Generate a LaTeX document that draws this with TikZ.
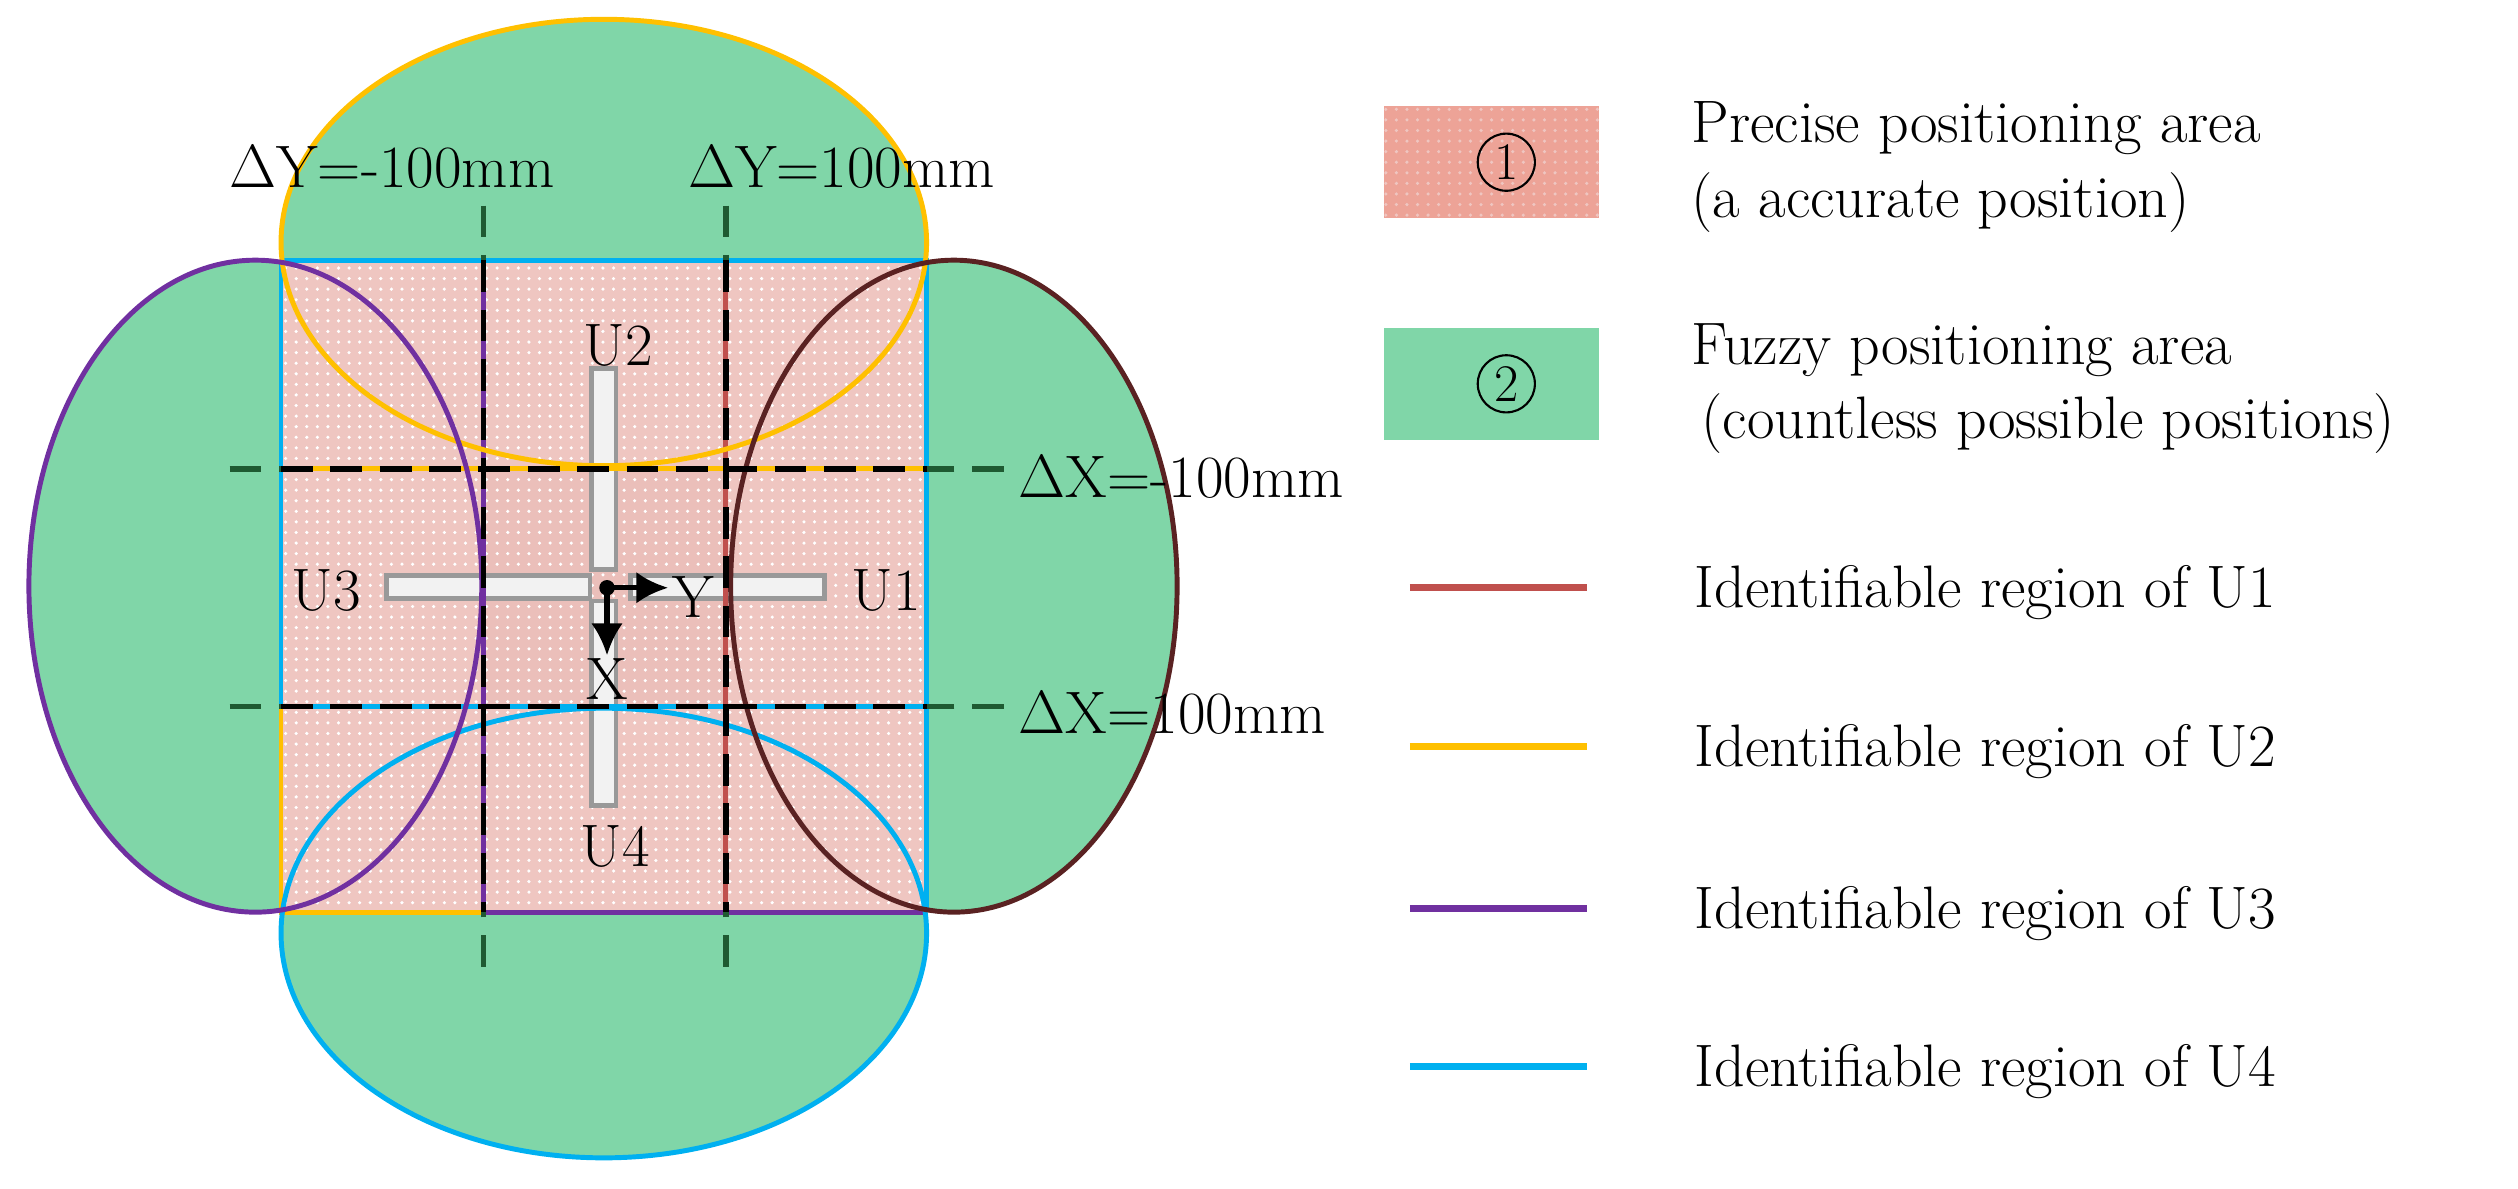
\documentclass[tikz,border=0pt]{standalone}
\usepackage{fontspec}
\usetikzlibrary{patterns,arrows.meta}
\definecolor{gfill}{HTML}{80D6A8}
\definecolor{pfill}{HTML}{EFC6C1}
\definecolor{pdark}{HTML}{EBBFBA}
\definecolor{lpink}{HTML}{EDA397}
\definecolor{cU1}{HTML}{C0504D}
\definecolor{cU1e}{HTML}{5A2222}
\definecolor{cU2}{HTML}{FFC000}
\definecolor{cU3}{HTML}{7030A0}
\definecolor{cU4}{HTML}{00B0F0}
\definecolor{dgreen}{HTML}{1F5A32}
\tikzset{
 txt/.style={font=\fontsize{17}{21}\selectfont, inner sep=0pt},
 circ/.style={draw, circle, line width=0.6pt, inner sep=1.5pt, font=\fontsize{15}{18}\selectfont},
 bar/.style={draw=gray!80, fill=gray!10, line width=1.3pt},
 bdash/.style={black, line width=1.6pt, dash pattern=on 9pt off 5pt},
 gdash/.style={dgreen, line width=1.6pt, dash pattern=on 9pt off 5pt},
 eline/.style={line width=1.4pt},
 leg/.style={line width=2pt},
}
\begin{document}
\begin{tikzpicture}[x=0.016cm,y=-0.016cm]
\useasboundingbox (0,0) rectangle (1568,740);
% green ellipse fills
\fill[gfill] (376,151) ellipse [x radius=201, y radius=139];
\fill[gfill] (376,581) ellipse [x radius=201, y radius=140];
\fill[gfill] (159,365) ellipse [x radius=141, y radius=203];
\fill[gfill] (594,365) ellipse [x radius=139, y radius=203];
% pink square
\fill[pfill] (175,162) rectangle (577,568);
\fill[pdark] (301,292) rectangle (452,440);
\fill[pattern=dots, pattern color=white] (175,162) rectangle (577,568);
% bars
\node[bar, minimum width=0.24cm, minimum height=2cm, inner sep=0pt] (b2) at (376,292) {};
\node[bar, minimum width=2.03cm, minimum height=0.23cm, inner sep=0pt] (b3) at (304,365.5) {};
\node[bar, minimum width=1.93cm, minimum height=0.23cm, inner sep=0pt] (b1) at (453,365.5) {};
\node[bar, minimum width=0.24cm, minimum height=2.04cm, inner sep=0pt] (b4) at (376,438) {};
% colored lines of square
\draw[cU4, eline] (175,162) -- (577,162) -- (577,568);
\draw[cU4, eline] (175,162) -- (175,440);
\draw[cU2, eline] (175,440) -- (175,568) -- (301,568);
\draw[cU3, eline] (301,568) -- (577,568);
\draw[cU2, eline] (175,292) -- (577,292);
\draw[cU4, eline] (175,440) -- (577,440);
\draw[cU3, eline] (301,162) -- (301,568);
\draw[cU1, eline] (452,162) -- (452,568);
% ellipses outlines
\draw[cU2, eline] (376,151) ellipse [x radius=201, y radius=139];
\draw[cU4, eline] (376,581) ellipse [x radius=201, y radius=140];
\draw[cU3, eline] (159,365) ellipse [x radius=141, y radius=203];
\draw[cU1e, eline] (594,365) ellipse [x radius=139, y radius=203];
% dashed lines
\coordinate (v1t) at (301,128); \coordinate (v1a) at (301,162);
\coordinate (v1b) at (301,568); \coordinate (v1e) at (301,602);
\coordinate (v2t) at (452,128); \coordinate (v2a) at (452,162);
\coordinate (v2b) at (452,568); \coordinate (v2e) at (452,602);
\coordinate (h1l) at (143,292); \coordinate (h1a) at (175,292);
\coordinate (h1b) at (577,292); \coordinate (h1e) at (625,292);
\coordinate (h2l) at (143,440); \coordinate (h2a) at (175,440);
\coordinate (h2b) at (577,440); \coordinate (h2e) at (625,440);
\foreach \p in {v1,v2,h1,h2}{
 \draw[bdash] (\p a) -- (\p b);
}
\draw[gdash] (v1t) -- (v1a); \draw[gdash] (v1e) -- (v1b);
\draw[gdash] (v2t) -- (v2a); \draw[gdash] (v2e) -- (v2b);
\draw[gdash] (h1l) -- (h1a); \draw[gdash] (h1e) -- (h1b);
\draw[gdash] (h2l) -- (h2a); \draw[gdash] (h2e) -- (h2b);
% axes
\fill (378,366) circle (2.2pt);
\coordinate (o) at (378,366);
\coordinate (ye) at (416,366);
\coordinate (xe) at (378,408);
\draw[line width=1.5pt, -{Latex[length=9pt,width=9pt]}] (o) -- (ye);
\draw[line width=1.5pt, -{Latex[length=9pt,width=9pt]}] (o) -- (xe);
% labels
\node[txt] (lu2) at (385,215) {U2};
\node[txt] (lu3) at (203,368) {U3};
\node[txt] (lu1) at (552,368) {U1};
\node[txt] (lu4) at (383,527) {U4};
\node[txt] (ly) at (432,372) {Y};
\node[txt] (lx) at (378,423) {X};
\node[txt] (dy1) at (244,104) {$\Delta$Y=-100mm};
\node[txt] (dy2) at (524,104) {$\Delta$Y=100mm};
\node[txt, anchor=west] (dx1) at (634,297) {$\Delta$X=-100mm};
\node[txt, anchor=west] (dx2) at (634,444) {$\Delta$X=100mm};
% legend
\fill[lpink] (862,66) rectangle (996,136);
\fill[pattern=dots, pattern color=pfill] (862,66) rectangle (996,136);
\node[circ] (n1) at (938,101) {1};
\fill[gfill] (862,204) rectangle (996,274);
\node[circ] (n2) at (938,239) {2};
\node[txt, anchor=west, align=left] (t1) at (1053,104) {Precise positioning area\\(a accurate position)};
\node[txt, anchor=west, align=left] (t2) at (1053,242) {Fuzzy positioning area\\ \,(countless possible positions)};
\foreach \y/\c/\n in {366/cU1/1, 465/cU2/2, 566/cU3/3, 664/cU4/4}{
 \coordinate (la\n) at (878,\y); \coordinate (lb\n) at (988,\y);
 \draw[\c, leg] (la\n) -- (lb\n);
 \node[txt, anchor=west] (lt\n) at (1055,\y+3) {Identifiable region of U\n};
}
\end{tikzpicture}
\end{document}
